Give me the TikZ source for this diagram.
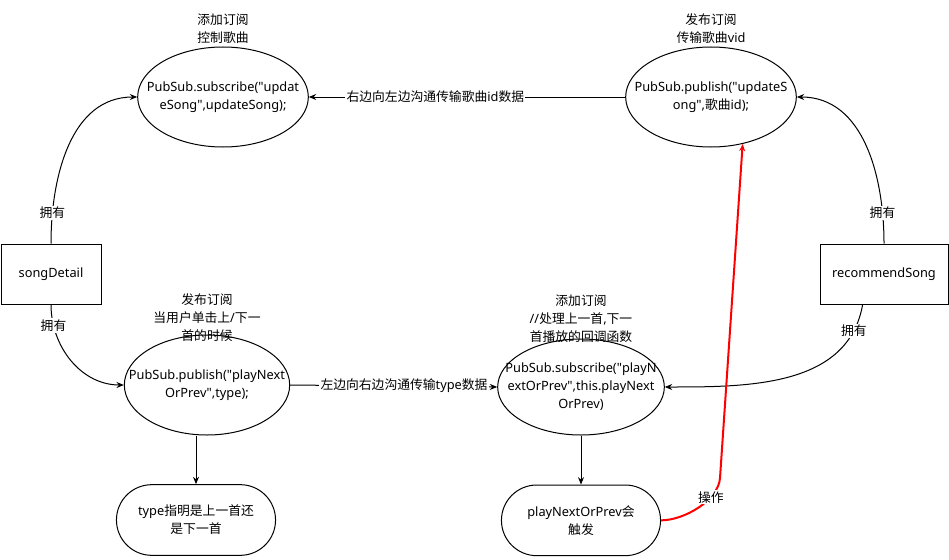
\documentclass[tikz,border=0pt]{standalone}
\usepackage{fontspec}
\setmainfont{Noto Sans}
\newfontfamily\cjk{Noto Sans CJK SC}
\newcommand{\zh}[1]{{\cjk #1}}
\newcommand{\dq}{\textquotedbl}
\usetikzlibrary{arrows.meta, shapes.geometric, shapes.misc, positioning}

\begin{document}
\begin{tikzpicture}[x=0.75pt,y=0.75pt,->,>={Stealth[length=5.5pt,width=4.5pt]},
 line width=0.75pt, node distance=100pt, font=\fontsize{9.6}{13.5}\selectfont]
 \tikzstyle{sub}=[ellipse,draw,minimum width=128pt,minimum height=75pt,inner sep=0pt]
 \tikzstyle{inside}=[align=center]
 \tikzstyle{owner}=[rectangle,draw,minimum height=45pt]
 \tikzstyle{term}=[rounded rectangle,draw,minimum width=126pt,minimum height=53pt,align=center]
 \tikzstyle{note}=[align=center]
 \tikzstyle{tag}=[fill=white,inner sep=1pt]

 \useasboundingbox (0,0) rectangle (949,-560);

 \node[sub,label={[inside]center:PubSub.subscribe(\dq updat\\eSong\dq,updateSong);}] (SubUpd) at (223,-97) {};
 \node[sub,label={[inside]center:PubSub.publish(\dq updateS\\ong\dq,\zh{歌曲}id);}] (PubUpd) at (711,-97) {};
 \node[note] at (223,-29) {\zh{添加订阅}\\\zh{控制歌曲}};
 \node[note] at (711,-29) {\zh{发布订阅}\\\zh{传输歌曲}vid};

 \node[owner,minimum width=75pt] (Detail) at (51,-274) {songDetail};
 \node[owner,minimum width=96pt] (Recom) at (884,-274) {recommendSong};

 \node[sub,minimum width=124pt,label={[inside]center:PubSub.publish(\dq playNext\\OrPrev\dq,type);}] (PubPlay) at (207,-385) {};
 \node[sub,minimum width=125pt,minimum height=72pt,label={[inside]center:PubSub.subscribe(\dq playN\\extOrPrev\dq,this.playNext\\OrPrev)}] (SubPlay) at (581,-387) {};
 \node[note] at (207,-318) {\zh{发布订阅}\\\zh{当用户单击上}/\zh{下一}\\\zh{首的时候}};
 \node[note] at (581,-319) {\zh{添加订阅}\\//\zh{处理上一首},\zh{下一}\\\zh{首播放的回调函数}};

 \node[term] (TypeEnd) at (196,-520) {type\zh{指明是上一首还}\\\zh{是下一首}};
 \node[term] (PlayEnd) [below of=SubPlay] {playNextOrPrev\zh{会}\\\zh{触发}};

 \path (PubUpd.west) edge node[tag,pos=0.6] {\zh{右边向左边沟通传输歌曲}id\zh{数据}} (SubUpd.east)
       (Detail.north) edge [out=90,in=180] node[tag,pos=0.15] {\zh{拥有}} (SubUpd.west)
       (Detail.south) edge [out=-90,in=180] node[tag,pos=0.17] {\zh{拥有}} (PubPlay.west)
       (Recom.north) edge [out=90,in=0] node[tag,pos=0.15] {\zh{拥有}} (PubUpd.east)
       (Recom.-125) edge [out=-100,in=0] node[tag,pos=0.12] {\zh{拥有}} (SubPlay.east)
       (PubPlay.east) edge node[tag,pos=0.55] {\zh{左边向右边沟通传输}type\zh{数据}} (SubPlay.west)
       (PubPlay.south -| TypeEnd.north) edge (TypeEnd.north)
       (SubPlay.south) edge (PlayEnd.north);

 % red trigger line
 \coordinate (bend) at (720,-478);
 \draw[red,line width=1.5pt] (PlayEnd.east) to[out=0,in=-94,looseness=0.8]
       node[tag,text=black,pos=0.7] {\zh{操作}} (bend) -- (PubUpd.-56);
\end{tikzpicture}
\end{document}
